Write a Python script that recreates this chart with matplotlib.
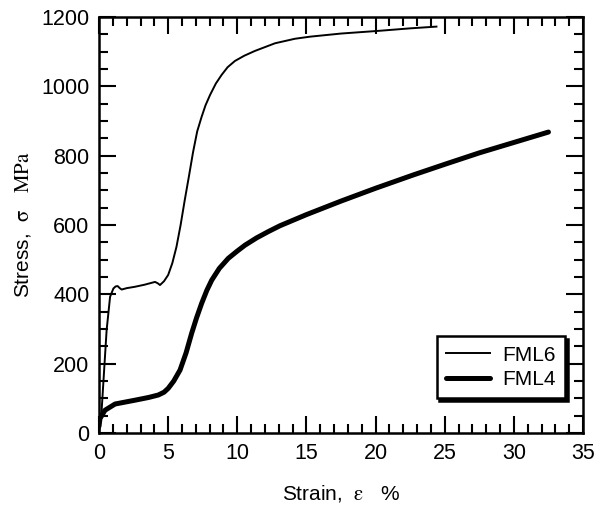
import numpy as np
import matplotlib.pyplot as plt
from matplotlib.ticker import MultipleLocator

plt.rcParams['font.family'] = ['Liberation Sans', 'DejaVu Sans']
plt.rcParams['mathtext.fontset'] = 'stix'

# FML6 (thin line)
fml6_strain = [0.0, 0.19, 0.55, 0.8, 1.04, 1.2, 1.35, 1.5, 1.64, 2.0, 2.6, 3.3, 4.05, 4.25,
               4.41, 4.7, 5.0, 5.3, 5.6, 5.9, 6.2, 6.5, 6.8, 7.1, 7.42, 7.7, 8.03, 8.45, 8.87,
               9.3, 9.83, 10.5, 11.28, 12.73, 14.17, 15.26, 17.5, 20.3, 22.5, 24.4]
fml6_stress = [0, 66, 297, 393, 417, 423, 424, 418, 414, 418, 422, 428, 436, 432,
               427, 438, 456, 490, 537, 600, 672, 740, 810, 870, 912, 945, 975, 1008, 1033,
               1055, 1073, 1088, 1102, 1124, 1137, 1143, 1152, 1160, 1167, 1172]

# FML4 (thick line)
fml4_strain = [0.0, 0.07, 0.43, 1.16, 2.6, 3.6, 4.29, 4.7, 5.0, 5.4, 5.86, 6.3, 6.7, 7.05,
               7.42, 7.8, 8.15, 8.7, 9.35, 10.0, 10.56, 11.4, 12.24, 13.09, 15.0, 17.5,
               20.0, 22.7, 25.0, 27.5, 30.0, 32.5]
fml4_stress = [20, 42, 66, 84, 95, 103, 110, 118, 129, 150, 182, 232, 288, 332,
               374, 412, 441, 475, 504, 525, 542, 563, 581, 598, 630, 669,
               706, 744, 775, 808, 838, 868]

fig = plt.figure(figsize=(6.15, 5.12), dpi=100)
ax = fig.add_axes([0.161, 0.154, 0.787, 0.813])

ax.plot(fml6_strain, fml6_stress, color='black', lw=1.4, label='FML6')
ax.plot(fml4_strain, fml4_stress, color='black', lw=3.6, label='FML4',
        solid_capstyle='round', solid_joinstyle='round')

ax.set_xlim(0, 35)
ax.set_ylim(0, 1200)
ax.xaxis.set_major_locator(MultipleLocator(5))
ax.xaxis.set_minor_locator(MultipleLocator(1))
ax.yaxis.set_major_locator(MultipleLocator(200))
ax.yaxis.set_minor_locator(MultipleLocator(50))
ax.tick_params(which='both', direction='in', top=True, right=True, width=1.5,
               labelsize=15.5, pad=7)
ax.tick_params(which='major', length=12)
ax.tick_params(which='minor', length=6.5)
for s in ax.spines.values():
    s.set_linewidth(1.8)

ax.set_xlabel(r'Strain,  $\mathrm{\varepsilon}$   %', fontsize=15, labelpad=14)
ax.set_ylabel(r'Stress,  $\mathrm{\sigma}$   $\mathrm{MPa}$', fontsize=15, labelpad=6)

leg = ax.legend(loc='lower right', bbox_to_anchor=(0.963, 0.084), borderaxespad=0,
                fontsize=15, fancybox=False,
                shadow={'ox': 2, 'oy': -2, 'color': 'black', 'alpha': 1},
                handlelength=2.1, borderpad=0.45, labelspacing=0.25,
                handletextpad=0.6, framealpha=1)
leg.get_frame().set_edgecolor('black')
leg.get_frame().set_linewidth(1.8)

fig.savefig('out.png', dpi=100)
